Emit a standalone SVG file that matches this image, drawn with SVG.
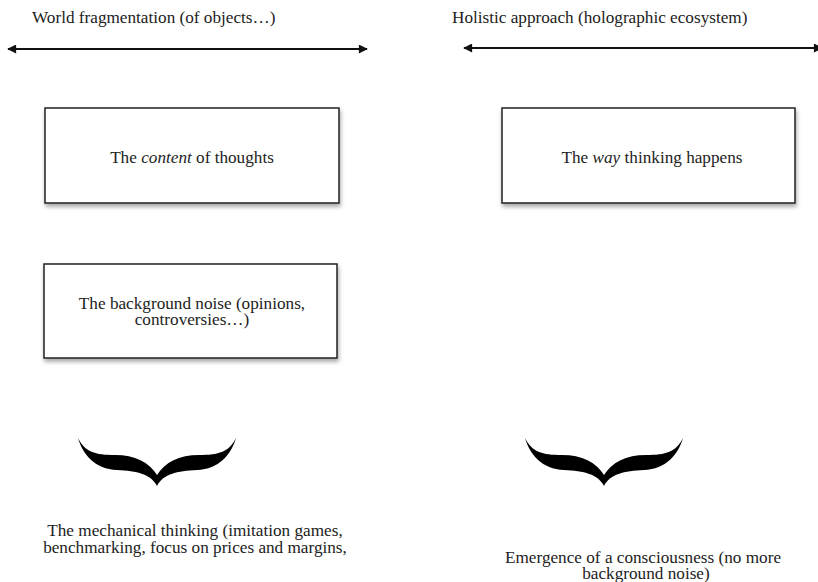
<svg xmlns="http://www.w3.org/2000/svg" width="818" height="582" viewBox="0 0 818 582">
  <style>
    text { font-family: "Liberation Serif", "Times New Roman", serif; font-size: 17.2px; fill: #222; }
    .mid { text-anchor: middle; }
    .box { fill: #fff; stroke: #222; stroke-width: 1.5; filter: url(#shadow); }
    .axis { stroke: #111; stroke-width: 2; fill: none; marker-start: url(#arrow); marker-end: url(#arrow); }
    .brace { fill: #000; }
  </style>
  <defs>
    <marker id="arrow" viewBox="0 0 10 10" refX="9" refY="5" markerWidth="5" markerHeight="4.5" orient="auto-start-reverse" markerUnits="strokeWidth">
      <path d="M0,0 L10,5 L0,10 Z" fill="#111"/>
    </marker>
    <filter id="shadow" x="-10%" y="-10%" width="120%" height="130%">
      <feDropShadow dx="1" dy="3" stdDeviation="2" flood-color="#000" flood-opacity="0.35"/>
    </filter>
    <path id="bracePath" d="M-79,438 C-74,455 -62,469 -40,470 C-20,471 -6,474 0,486 C6,474 20,471 40,470 C62,469 74,455 79,438 C72,452 62,455 42,455 C22,455 8,462 0,475 C-8,462 -22,455 -42,455 C-62,455 -72,452 -79,438 Z"/>
  </defs>

  <g id="connectors">
    <line class="axis" x1="8" y1="49" x2="367" y2="49"/>
    <line class="axis" x1="464" y1="48" x2="822" y2="48"/>
  </g>

  <g id="label-left">
    <text x="32" y="23">World fragmentation (of objects…)</text>
  </g>
  <g id="label-right">
    <text x="452" y="23">Holistic approach (holographic ecosystem)</text>
  </g>

  <g id="node-content">
    <rect class="box" x="45" y="108" width="294" height="95"/>
    <text class="mid" x="192" y="163">The <tspan font-style="italic">content</tspan> of thoughts</text>
  </g>

  <g id="node-way">
    <rect class="box" x="502" y="108" width="293" height="95"/>
    <text class="mid" x="652" y="163">The <tspan font-style="italic">way</tspan> thinking happens</text>
  </g>

  <g id="node-noise">
    <rect class="box" x="44" y="264" width="293" height="94"/>
    <text class="mid" x="192" y="309">The background noise (opinions,<tspan x="192" dy="16">controversies…)</tspan></text>
  </g>

  <g id="brace-left">
    <use href="#bracePath" class="brace" transform="translate(157,0)"/>
  </g>
  <g id="brace-right">
    <use href="#bracePath" class="brace" transform="translate(604,0)"/>
  </g>

  <g id="text-mechanical">
    <text class="mid" x="195" y="536">The mechanical thinking (imitation games,<tspan x="195" dy="17">benchmarking, focus on prices and margins,</tspan></text>
  </g>

  <g id="text-emergence">
    <text class="mid" x="643" y="563">Emergence of a consciousness (no more<tspan x="646" dy="15.5">background noise)</tspan></text>
  </g>
</svg>
